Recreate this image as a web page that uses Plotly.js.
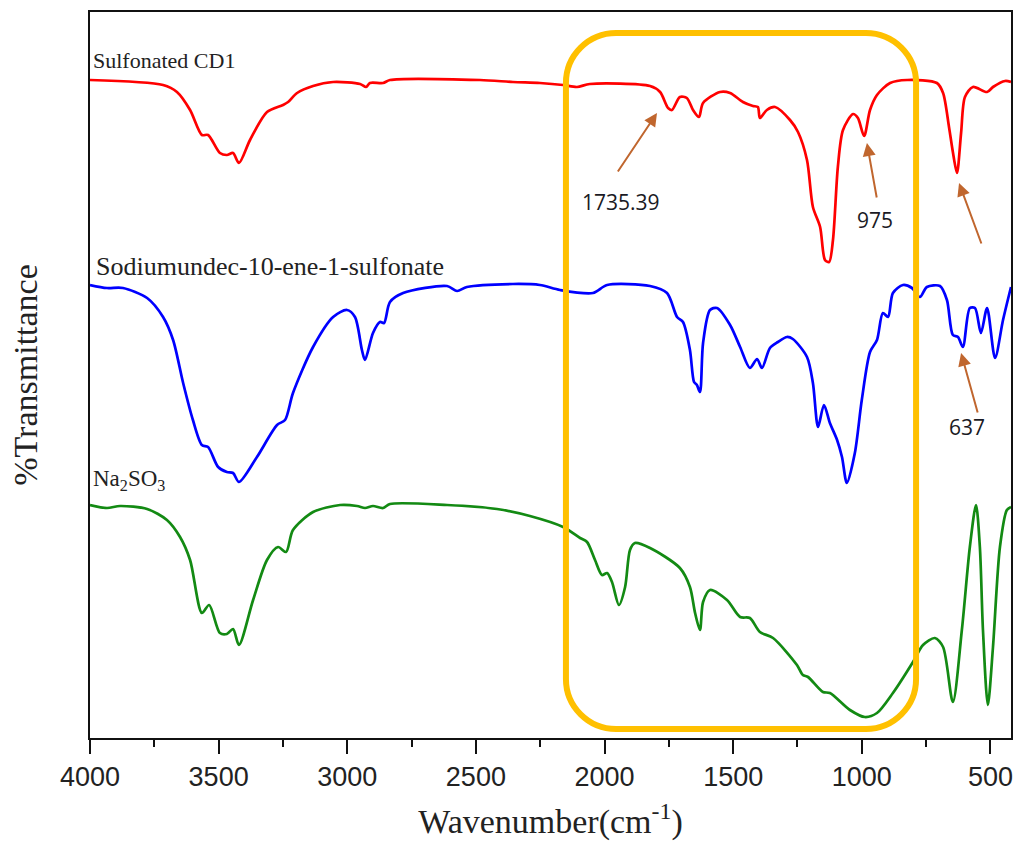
<!DOCTYPE html>
<html>
<head>
<meta charset="utf-8">
<script src="https://cdn.plot.ly/plotly-3.0.1.min.js"></script>
<style>html,body{margin:0;padding:0;background:#fff;}#chart{width:1013px;height:853px;}</style>
</head>
<body>
<div id="chart"></div>
<script>
// Wavenumber (cm-1) and offset transmittance (arbitrary units)
const redWn = [4000,3716,3662,3611,3565,3541,3495,3468,3444,3421,3378,3312,3250,3230,3195,3133,3055,2950,2927,2912,2861,2834,2484,2356,2251,2161,2107,2057,1823,1784,1753,1738,1707,1680,1656,1633,1617,1551,1512,1462,1423,1404,1396,1369,1337,1279,1248,1213,1190,1162,1143,1127,1112,1093,1073,1034,1015,991,968,941,890,824,708,684,661,646,630,614,599,568,513,490,443,420];
const redT = [658,653,646,628,603,603,585,583,585,575,598,626,633,636,645,652,656,654,651,655,655,658,658,656,655,653,651,654,652,646,630,628,641,640,628,621,635,646,645,636,632,631,620,628,631,618,606,578,531,511,478,476,498,571,608,624,620,602,628,643,655,658,655,645,611,586,565,605,641,651,646,651,657,656];

const blueWn = [4000,3934,3872,3778,3716,3677,3638,3600,3565,3541,3502,3468,3444,3421,3351,3273,3242,3211,3133,3055,3001,2970,2943,2931,2900,2873,2857,2834,2783,2612,2573,2535,2356,2251,2173,2045,1990,1823,1757,1718,1695,1668,1652,1641,1629,1617,1590,1563,1512,1473,1435,1407,1388,1357,1326,1291,1268,1213,1190,1170,1147,1124,1096,1077,1058,1027,1000,968,941,918,898,879,840,805,774,747,696,669,646,626,607,580,560,537,513,482,451,420];
const blueT = [453,450,450,440,421,398,355,318,293,291,271,266,265,256,281,313,318,345,391,421,428,421,388,378,405,416,415,436,445,452,447,451,454,453,448,445,453,452,445,421,416,388,356,353,346,395,428,430,413,391,370,379,370,390,396,401,399,381,355,311,333,315,298,281,255,285,338,386,398,425,421,445,453,450,441,451,452,438,403,401,391,430,430,405,430,380,418,451];

const greenWn = [4000,3934,3883,3778,3701,3650,3611,3565,3537,3495,3468,3444,3421,3366,3312,3269,3238,3211,3133,3028,2962,2931,2900,2861,2834,2612,2418,2290,2161,2095,2068,2037,2010,1990,1971,1944,1920,1901,1882,1823,1707,1668,1648,1629,1617,1590,1524,1473,1435,1396,1345,1252,1229,1209,1151,1124,1046,988,941,879,801,762,716,684,646,611,580,556,541,529,510,490,463,436,420];
const greenT = [233,230,232,229,218,201,178,125,133,105,104,109,93,138,178,191,186,208,226,233,232,230,232,230,234,233,229,222,211,200,196,178,163,165,156,133,151,188,195,190,170,151,125,108,136,148,138,121,120,106,100,73,63,61,46,45,28,21,25,45,76,93,100,91,36,108,191,233,191,108,33,91,191,228,231];

const seriesNames = ["Sulfonated CD1", "Sodiumundec-10-ene-1-sulfonate", "Na<sub>2</sub>SO<sub>3</sub>"];
const peakLabels = ["1735.39", "975", "637"];
const xTickVals = [4000,3500,3000,2500,2000,1500,1000,500];

const serif = "Liberation Serif, Times New Roman, serif";
const lw = 2.7;
const sm = 0.8;

const traces = [
  {x: redWn, y: redT, mode: "lines", line: {color: "#ff0000", width: lw, shape: "spline", smoothing: sm}, name: seriesNames[0]},
  {x: blueWn, y: blueT, mode: "lines", line: {color: "#0000ff", width: lw, shape: "spline", smoothing: sm}, name: seriesNames[1]},
  {x: greenWn, y: greenT, mode: "lines", line: {color: "#138a13", width: lw, shape: "spline", smoothing: sm}, name: seriesNames[2]}
];

// Rounded highlight box (data coordinates)
const bL = 2150, bR = 789, bT = 705, bB = 9, rx = 195, ry = 50, k = 0.5523;
const q = 1 - k;
const boxPath = [
  `M ${bL},${bB + ry}`,
  `L ${bL},${bT - ry}`,
  `C ${bL},${bT - ry * q} ${bL - rx * q},${bT} ${bL - rx},${bT}`,
  `L ${bR + rx},${bT}`,
  `C ${bR + rx * q},${bT} ${bR},${bT - ry * q} ${bR},${bT - ry}`,
  `L ${bR},${bB + ry}`,
  `C ${bR},${bB + ry * q} ${bR + rx * q},${bB} ${bR + rx},${bB}`,
  `L ${bL - rx},${bB}`,
  `C ${bL - rx * q},${bB} ${bL},${bB + ry * q} ${bL},${bB + ry}`,
  "Z"
].join(" ");

const arrowColor = "#c0662e";
const labFont = {family: "Open Sans, Lato, sans-serif", size: 21, color: "#1a1a24"};

const annotations = [
  {x: 4000, y: 678, xref: "x", yref: "y", text: seriesNames[0], showarrow: false, xanchor: "left", yanchor: "middle", xshift: 1, font: {family: serif, size: 22, color: "#222"}},
  {x: 4000, y: 472, xref: "x", yref: "y", text: seriesNames[1], showarrow: false, xanchor: "left", yanchor: "middle", xshift: 4, font: {family: serif, size: 26, color: "#222"}},
  {x: 4000, y: 258, xref: "x", yref: "y", text: seriesNames[2], showarrow: false, xanchor: "left", yanchor: "middle", xshift: 1, font: {family: serif, size: 23, color: "#222"}},
  {x: 1936, y: 536, xref: "x", yref: "y", text: peakLabels[0], showarrow: false, font: labFont},
  {x: 949, y: 518, xref: "x", yref: "y", text: peakLabels[1], showarrow: false, font: labFont},
  {x: 591, y: 311, xref: "x", yref: "y", text: peakLabels[2], showarrow: false, font: labFont},
  {x: 1796, y: 625, ax: 1952, ay: 565, xref: "x", yref: "y", axref: "x", ayref: "y", text: "", showarrow: true, arrowhead: 2, arrowsize: 1.3, arrowwidth: 2, arrowcolor: arrowColor},
  {x: 980, y: 595, ax: 941, ay: 539, xref: "x", yref: "y", axref: "x", ayref: "y", text: "", showarrow: true, arrowhead: 2, arrowsize: 1.3, arrowwidth: 2, arrowcolor: arrowColor},
  {x: 622, y: 555, ax: 533, ay: 493, xref: "x", yref: "y", axref: "x", ayref: "y", text: "", showarrow: true, arrowhead: 2, arrowsize: 1.3, arrowwidth: 2, arrowcolor: arrowColor},
  {x: 614, y: 385, ax: 548, ay: 324, xref: "x", yref: "y", axref: "x", ayref: "y", text: "", showarrow: true, arrowhead: 2, arrowsize: 1.3, arrowwidth: 2, arrowcolor: arrowColor}
];

const layout = {
  width: 1013, height: 853,
  margin: {l: 90, r: 2, t: 12, b: 115},
  paper_bgcolor: "#ffffff", plot_bgcolor: "#ffffff",
  showlegend: false,
  xaxis: {
    range: [4000, 420], autorange: false,
    tickmode: "array", tickvals: xTickVals, ticktext: xTickVals.map(String),
    ticklabeloverflow: "allow",
    ticks: "outside", ticklen: 14, tickwidth: 2, tickcolor: "#111",
    minor: {dtick: 250, tick0: 0, ticks: "outside", ticklen: 7, tickwidth: 2, tickcolor: "#111", showgrid: false},
    showline: true, linecolor: "#111", linewidth: 2, mirror: true,
    showgrid: false, zeroline: false,
    tickfont: {family: "Liberation Sans, Arial, sans-serif", size: 27, color: "#222"},
    title: {text: "Wavenumber(cm<sup>-1</sup>)", font: {family: serif, size: 34, color: "#222"}, standoff: 18},
    automargin: false
  },
  yaxis: {
    range: [0, 726], autorange: false,
    showticklabels: false, ticks: "",
    showline: true, linecolor: "#111", linewidth: 2, mirror: true,
    showgrid: false, zeroline: false,
    title: {text: "%Transmittance", font: {family: serif, size: 34, color: "#222"}, standoff: 40},
    automargin: false
  },
  shapes: [
    {type: "path", path: boxPath, xref: "x", yref: "y", line: {color: "#ffc000", width: 6}, fillcolor: "rgba(0,0,0,0)", layer: "above"}
  ],
  annotations: annotations
};

Plotly.newPlot("chart", traces, layout, {staticPlot: true, displayModeBar: false});
</script>
</body>
</html>
